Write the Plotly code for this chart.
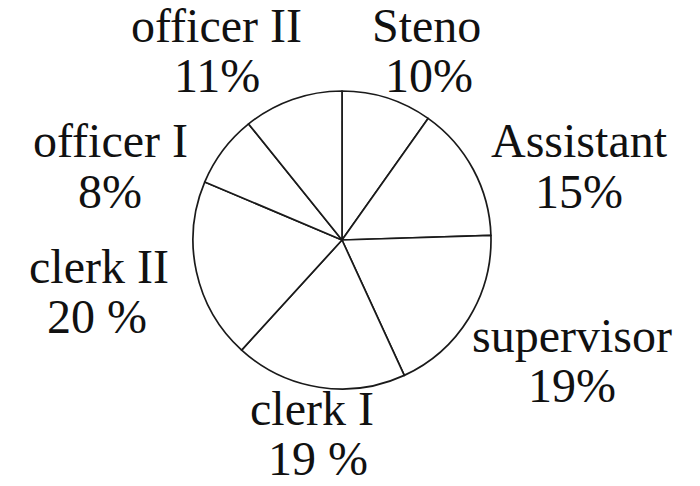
import plotly.graph_objects as go

# Data (clockwise from 12 o'clock)
categories = ["Steno", "Assistant", "supervisor", "clerk I", "clerk II", "officer I", "officer II"]
shares = [10, 15, 19, 19, 20, 8, 11]
pct_labels = ["10%", "15%", "19%", "19 %", "20 %", "8%", "11%"]

W, H = 700, 486
# label layout (pixel positions of name line and percent line centers)
name_pos = [(426, 25), (579, 140), (572, 335), (312, 408), (99, 266), (111, 140), (216, 26)]
pct_pos = [(429, 76), (579, 191), (572, 385), (318, 458), (97, 316), (110, 191), (217, 76)]

cx, cy, r = 342, 240, 149

fig = go.Figure(go.Pie(
    labels=categories,
    values=shares,
    sort=False,
    direction="clockwise",
    rotation=0,
    textinfo="none",
    hoverinfo="label+percent",
    marker=dict(colors=["white"] * len(categories), line=dict(color="#1a1a1a", width=1.7)),
    domain=dict(x=[(cx - r) / W, (cx + r) / W], y=[1 - (cy + r) / H, 1 - (cy - r) / H]),
    showlegend=False,
))

font = dict(family="Liberation Serif", size=48, color="#111111")
annotations = []
for name, pct, (nx, ny), (px, py) in zip(categories, pct_labels, name_pos, pct_pos):
    annotations.append(dict(text=name, x=nx / W, y=1 - ny / H, xref="paper", yref="paper",
                            xanchor="center", yanchor="middle", showarrow=False, font=font))
    annotations.append(dict(text=pct, x=px / W, y=1 - py / H, xref="paper", yref="paper",
                            xanchor="center", yanchor="middle", showarrow=False, font=font))

fig.update_layout(
    width=W, height=H,
    margin=dict(l=0, r=0, t=0, b=0),
    paper_bgcolor="white",
    plot_bgcolor="white",
    annotations=annotations,
)

fig.write_html("out.html", config={"displayModeBar": False},
               post_script="document.body.style.margin='0';document.body.style.overflow='hidden';")
